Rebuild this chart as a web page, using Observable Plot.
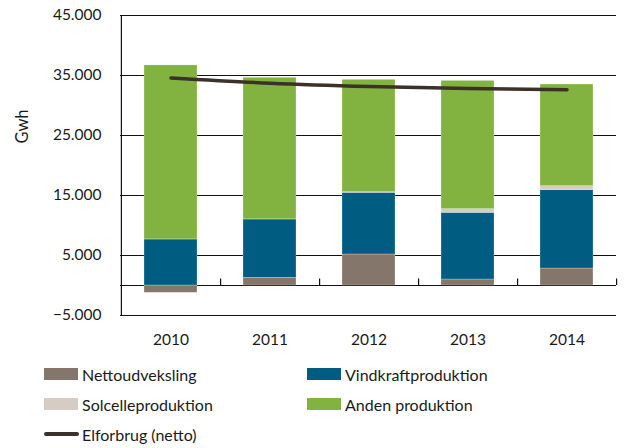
<!DOCTYPE html>
<html>
<head>
<meta charset="utf-8">
<script src="https://cdn.jsdelivr.net/npm/d3@7"></script>
<script src="https://cdn.jsdelivr.net/npm/@observablehq/plot@0.6"></script>
<style>
  body { margin: 0; background: #fff; font-family: Lato, sans-serif; }
  #wrap { width: 624px; position: relative; }
  #legend { position: relative; height: 93px; font-size: 16px; color: #1a1a1a; }
  .item { position: absolute; display: flex; align-items: center; height: 20px; }
  .sw { width: 34px; height: 12px; margin-right: 4px; }
  .ln { width: 35px; height: 4px; border-radius: 2px; margin-right: 3px; }
</style>
</head>
<body>
<div id="wrap"><div id="chart"></div><div id="legend"></div></div>
<script>
const years = ["2010", "2011", "2012", "2013", "2014"];
const nettoudveksling = [-1220, 1280, 5170, 1000, 2830];
const vindkraft = [7670, 9720, 10280, 11110, 13060];
const solcelle = [10, 20, 100, 610, 660];
const anden = [29000, 23600, 18730, 21380, 16950];
const elforbrug = [34600, 33720, 33170, 32830, 32620];
const yTicks = [-5000, 5000, 15000, 25000, 35000, 45000];

const series = ["Nettoudveksling", "Vindkraftproduktion", "Solcelleproduktion", "Anden produktion"];
const colors = ["#85766b", "#005c80", "#d6ccc3", "#82b341"];
const values = [nettoudveksling, vindkraft, solcelle, anden];

const rows = [];
series.forEach((s, i) => years.forEach((y, j) => rows.push({year: y, series: s, value: values[i][j]})));
const line = years.map((y, j) => ({year: y, value: elforbrug[j]}));

const fmt = d => d3.format(",")(d).replace(/,/g, ".");

const chart = Plot.plot({
  width: 624,
  height: 355,
  marginLeft: 120,
  marginRight: 8,
  marginTop: 15,
  marginBottom: 40,
  style: {fontFamily: "Lato, sans-serif", fontSize: "15.5px", color: "#1a1a1a"},
  x: {domain: years, paddingInner: 0.465, paddingOuter: 0.2325, label: null, tickSize: 0, tickPadding: 18},
  y: {domain: [-5000, 45000], ticks: yTicks, tickFormat: fmt, label: null, tickSize: 0, tickPadding: 19},
  color: {domain: series, range: colors},
  marks: [
    Plot.ruleY(yTicks, {stroke: "#111", strokeWidth: 1.2}),
    Plot.ruleY([0], {stroke: "#111", strokeWidth: 1.2}),
    Plot.ruleX([years[0]], {dx: -49.6, y1: -5000, y2: 45000, stroke: "#111", strokeWidth: 1.2}),
    Plot.barY(rows, {x: "year", y: "value", fill: "series", order: series, stroke: "#ffffff", strokeWidth: 0.4, strokeOpacity: 0.6}),
    Plot.ruleX(years, {dx: 49.6, y1: 0, y2: 1100, stroke: "#111", strokeWidth: 1.2}),
    Plot.line(line, {x: "year", y: "value", stroke: "#3b3129", strokeWidth: 3.5, curve: "catmull-rom"}),
    Plot.text(["Gwh"], {frameAnchor: "left", rotate: -90, dx: -98, dy: -22, fontSize: 16.5, fill: "#1a1a1a"})
  ]
});
document.getElementById("chart").appendChild(chart);

const legend = document.getElementById("legend");
const items = [
  {label: series[0], color: colors[0], left: 44, top: 9},
  {label: series[1], color: colors[1], left: 307, top: 9},
  {label: series[2], color: colors[2], left: 44, top: 39},
  {label: series[3], color: colors[3], left: 307, top: 39},
  {label: "Elforbrug (netto)", color: "#3b3129", left: 44, top: 69, line: true}
];
items.forEach(it => {
  const d = document.createElement("div");
  d.className = "item";
  d.style.left = it.left + "px";
  d.style.top = it.top + "px";
  const s = document.createElement("div");
  s.className = it.line ? "ln" : "sw";
  s.style.background = it.color;
  d.appendChild(s);
  const t = document.createElement("span");
  t.textContent = it.label;
  d.appendChild(t);
  legend.appendChild(d);
});
</script>
</body>
</html>
